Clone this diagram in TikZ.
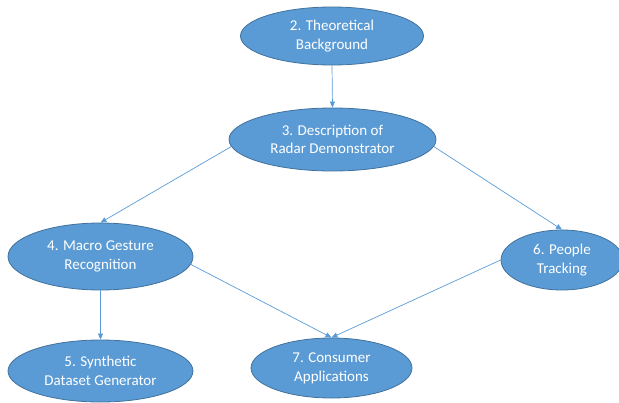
\documentclass[tikz,border=0pt]{standalone}
\usepackage{fontspec}
\setmainfont{Carlito}
\usetikzlibrary{shapes.geometric,arrows.meta}
\definecolor{topicfill}{HTML}{5B9BD5}
\definecolor{topicline}{HTML}{41719C}
\definecolor{linkline}{HTML}{5B9BD5}
\tikzset{
  topic/.style={ellipse, fill=topicfill, draw=topicline, line width=0.8pt,
    text=white, align=center, inner sep=0pt,
    font=\fontsize{15}{18.7}\selectfont},
  link/.style={draw=linkline, line width=0.7pt,
    -{Triangle[length=6pt,width=5pt]}}
}
\begin{document}
\begin{tikzpicture}[x=1pt,y=-1pt]
  \useasboundingbox (0,0) rectangle (619,402);
  \node[topic, minimum width=183pt, minimum height=58pt] (n2) at (332,36)
    {2. Theoretical\\Background};
  \node[topic, minimum width=207pt, minimum height=63pt] (n3) at (332.5,139.5)
    {3. Description of\\Radar Demonstrator};
  \node[topic, minimum width=185pt, minimum height=67pt] (n4) at (100.5,256.5)
    {4. Macro Gesture\\Recognition};
  \node[topic, minimum width=122pt, minimum height=60pt] (n6) at (562,260)
    {6. People\\Tracking};
  \node[topic, minimum width=185pt, minimum height=62pt] (n5) at (100.5,371)
    {5. Synthetic\\Dataset Generator};
  \node[topic, minimum width=161pt, minimum height=60pt] (n7) at (331.5,368)
    {7. Consumer\\Applications};

  \draw[link] (n2.south) -- (n3.north);
  \draw[link] (n3.184) -- (n4.north);
  \draw[link] (n3.356) -- (n6.north);
  \draw[link] (n4.south) -- (n5.north);
  \draw[link] (n4.355) -- (n7.north);
  \draw[link] (n6.west) -- (n7.north);
\end{tikzpicture}
\end{document}
